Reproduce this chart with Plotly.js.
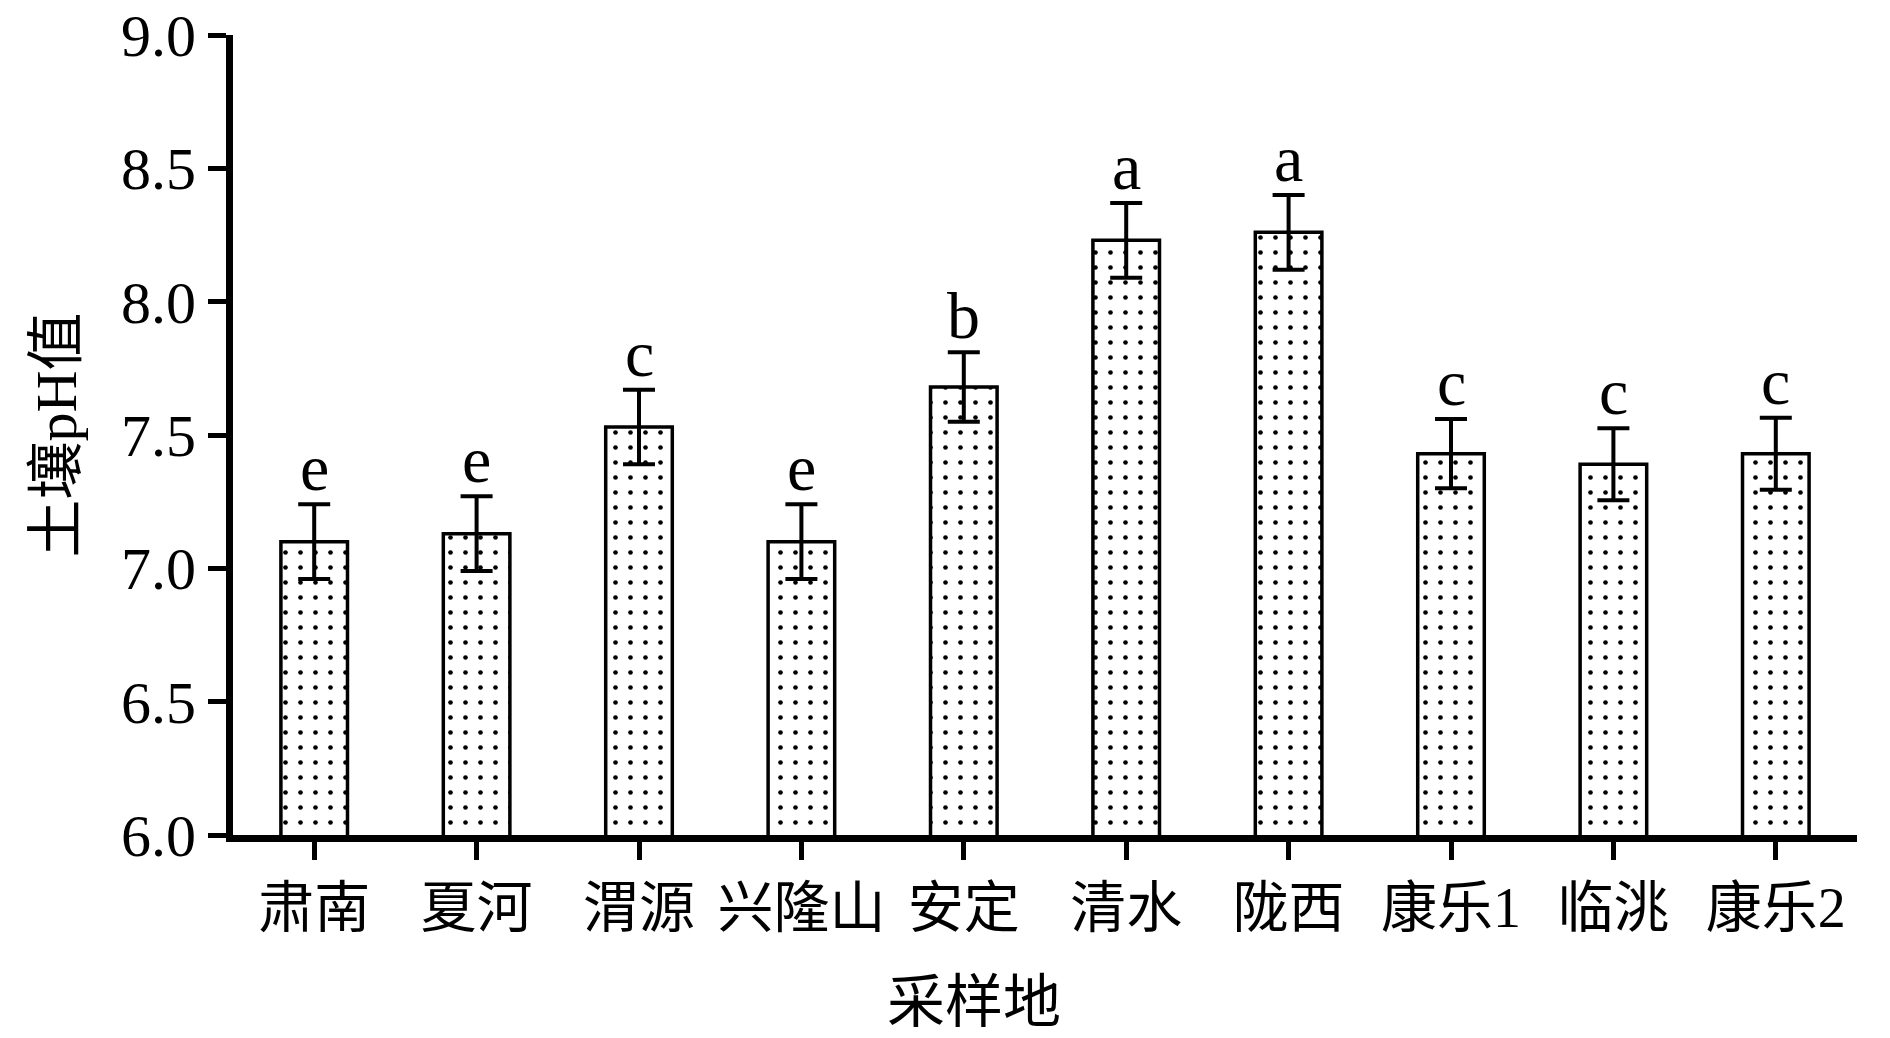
<!DOCTYPE html>
<html>
<head>
<meta charset="utf-8">
<script src="https://cdn.plot.ly/plotly-3.0.1.min.js"></script>
<style>html,body{margin:0;padding:0;background:#fff;}#chart{width:1890px;height:1038px;}</style>
</head>
<body>
<div id="chart"></div>
<script>
const categories = ["肃南", "夏河", "渭源", "兴隆山", "安定", "清水", "陇西", "康乐1", "临洮", "康乐2"];
const phValues = [7.10, 7.13, 7.53, 7.10, 7.68, 8.23, 8.26, 7.43, 7.39, 7.43];
const phErrors = [0.14, 0.14, 0.14, 0.14, 0.13, 0.14, 0.14, 0.13, 0.135, 0.135];
const sigLetters = ["e", "e", "c", "e", "b", "a", "a", "c", "c", "c"];
const yTickVals = [6.0, 6.5, 7.0, 7.5, 8.0, 8.5, 9.0];
const yTickText = ["6.0", "6.5", "7.0", "7.5", "8.0", "8.5", "9.0"];

const FONT = "'Liberation Serif', 'Times New Roman', 'Noto Sans CJK SC', serif";

const trace = {
  type: 'bar',
  x: categories,
  y: phValues,
  base: 0,
  width: 0.41,
  marker: {
    color: '#ffffff',
    line: {color: '#000000', width: 3.5},
    pattern: {shape: '.', fgcolor: '#000000', bgcolor: '#ffffff', size: 15, solidity: 0.075}
  },
  error_y: {type: 'data', array: phErrors, visible: true, color: '#000000', thickness: 4, width: 16},
  hoverinfo: 'x+y'
};

const L = 233, R = 33, T = 35, B = 203, W = 1890, H = 1038;
const pw = W - L - R, ph = H - T - B;

const annotations = categories.map((c, i) => ({
  x: c, y: phValues[i] + phErrors[i], xref: 'x', yref: 'y',
  text: sigLetters[i], showarrow: false, yanchor: 'bottom', yshift: -2,
  font: {family: FONT, size: 66, color: '#000'}
}));
annotations.push({
  x: (974 - L) / pw, y: (H - B - 1002) / ph, xref: 'paper', yref: 'paper',
  xanchor: 'center', yanchor: 'middle',
  text: '采样地', showarrow: false,
  font: {family: FONT, size: 58, color: '#000'}
});

const layout = {
  width: W, height: H,
  margin: {l: L, r: R, t: T, b: B, pad: 0},
  paper_bgcolor: '#fff', plot_bgcolor: '#fff',
  showlegend: false,
  bargap: 0.59,
  xaxis: {
    type: 'category', range: [-0.5, 9.5],
    showline: true, linecolor: '#000', linewidth: 7,
    ticks: 'outside', ticklen: 18, tickwidth: 5, tickcolor: '#000',
    tickfont: {family: FONT, size: 56, color: '#000'},
    showgrid: false, zeroline: false, fixedrange: true
  },
  yaxis: {
    range: [6.0, 9.0], tickvals: yTickVals, ticktext: yTickText,
    showline: true, linecolor: '#000', linewidth: 7,
    ticks: 'outside', ticklen: 18, tickwidth: 5, tickcolor: '#000',
    tickfont: {family: FONT, size: 60, color: '#000'},
    showgrid: false, zeroline: false, fixedrange: true,
    title: {text: '土壤pH值', font: {family: FONT, size: 58, color: '#000'}, standoff: 28}
  },
  annotations: annotations
};

Plotly.newPlot('chart', [trace], layout, {displayModeBar: false, staticPlot: true});
</script>
</body>
</html>
